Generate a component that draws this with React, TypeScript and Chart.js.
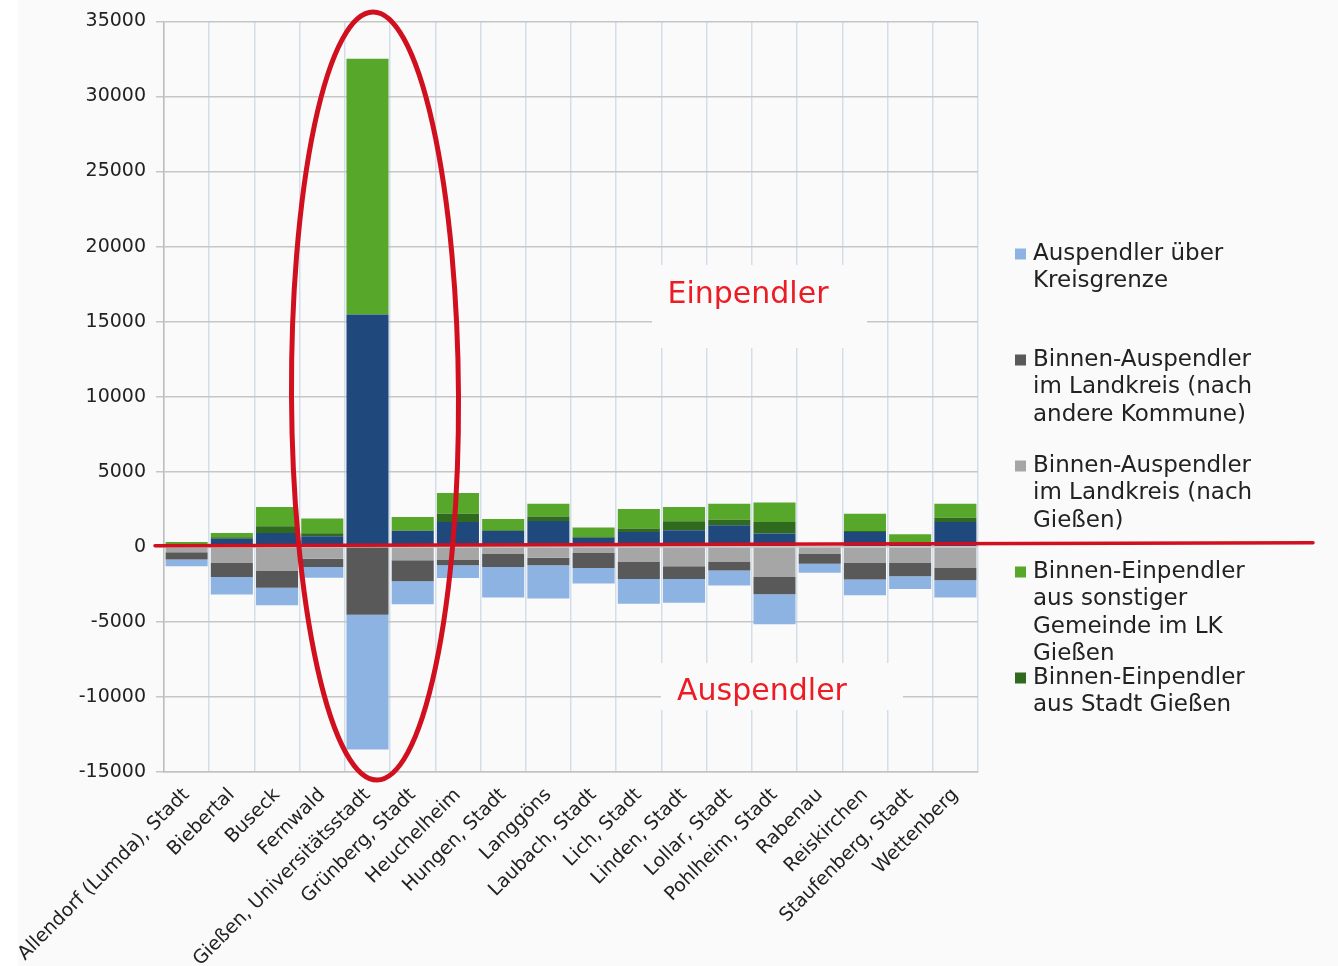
import { useEffect, useRef } from "react";
import { Chart, registerables } from "chart.js";

Chart.register(...registerables);

// Gemeinden im Landkreis Gießen
const communes = [
  "Allendorf (Lumda), Stadt",
  "Biebertal",
  "Buseck",
  "Fernwald",
  "Gießen, Universitätsstadt",
  "Grünberg, Stadt",
  "Heuchelheim",
  "Hungen, Stadt",
  "Langgöns",
  "Laubach, Stadt",
  "Lich, Stadt",
  "Linden, Stadt",
  "Lollar, Stadt",
  "Pohlheim, Stadt",
  "Rabenau",
  "Reiskirchen",
  "Staufenberg, Stadt",
  "Wettenberg",
];

// Einpendler (positive stack, bottom to top)
const einpendlerKreisgrenze = [150, 530, 920, 700, 15480, 1050, 1650, 1050, 1720, 610, 990, 1100, 1430, 880, 0, 990, 200, 1650];
const einpendlerStadtGiessen = [30, 110, 450, 200, 0, 30, 560, 50, 300, 50, 230, 600, 380, 780, 0, 60, 0, 290];
const einpendlerSonstige = [140, 280, 1280, 980, 17040, 900, 1370, 750, 850, 620, 1300, 950, 1060, 1300, 0, 1160, 630, 930];

// Auspendler (negative stack, from zero downwards)
const auspendlerNachGiessen = [-370, -1050, -1610, -790, 0, -900, -850, -450, -720, -410, -970, -1300, -970, -2010, -450, -1050, -1050, -1410];
const auspendlerAndereKommune = [-470, -960, -1110, -560, -4520, -1400, -380, -890, -510, -1000, -1180, -840, -600, -1150, -670, -1130, -910, -820];
const auspendlerKreisgrenze = [-460, -1170, -1180, -710, -8980, -1530, -850, -2040, -2220, -1040, -1640, -1580, -1000, -2000, -600, -1050, -850, -1150];

const yMin = -15000;
const yMax = 35000;
const yStep = 5000;

const LIGHT_BLUE = "#8db3e2";
const DARK_GRAY = "#595959";
const LIGHT_GRAY = "#a6a6a6";
const GREEN = "#57a82a";
const DARK_GREEN = "#2f6a1e";
const DARK_BLUE = "#1f487c";

const FONT = "'DejaVu Sans', 'Liberation Sans', sans-serif";
const BG = "#fafafa";
const RED_TEXT = "#ec1c24";
const RED_MARK = "#d0101f";

// Legend entries, wrapped as they appear beside the plot
const legendEntries: { color: string; lines: string[] }[] = [
  { color: LIGHT_BLUE, lines: ["Auspendler über", "Kreisgrenze"] },
  { color: DARK_GRAY, lines: ["Binnen-Auspendler", "im Landkreis (nach", "andere Kommune)"] },
  { color: LIGHT_GRAY, lines: ["Binnen-Auspendler", "im Landkreis (nach", "Gießen)"] },
  { color: GREEN, lines: ["Binnen-Einpendler", "aus sonstiger", "Gemeinde im LK", "Gießen"] },
  { color: DARK_GREEN, lines: ["Binnen-Einpendler", "aus Stadt Gießen"] },
];

const backgroundPlugin = {
  id: "pageBackground",
  beforeDraw(chart: Chart) {
    const { ctx, width, height } = chart;
    ctx.save();
    ctx.fillStyle = "#ffffff";
    ctx.fillRect(0, 0, width, height);
    ctx.fillStyle = BG;
    ctx.fillRect(18, 0, width - 18, height);
    ctx.restore();
  },
};

const overlayPlugin = {
  id: "overlay",
  afterDraw(chart: Chart) {
    const { ctx } = chart;
    ctx.save();

    // Region labels on cleared backgrounds
    ctx.fillStyle = BG;
    ctx.fillRect(652, 265, 215, 83);
    ctx.fillRect(661, 663, 242, 47);
    ctx.fillStyle = RED_TEXT;
    ctx.font = `30px ${FONT}`;
    ctx.textAlign = "center";
    ctx.textBaseline = "middle";
    ctx.fillText("Einpendler", 748, 295);
    ctx.fillText("Auspendler", 762, 692);

    // Zero divider line
    ctx.strokeStyle = RED_MARK;
    ctx.lineWidth = 3.5;
    ctx.lineCap = "round";
    ctx.beginPath();
    ctx.moveTo(155, 545.7);
    ctx.lineTo(1313, 542.7);
    ctx.stroke();

    // Highlight around Gießen
    ctx.lineWidth = 5;
    ctx.beginPath();
    ctx.ellipse(375, 396, 83.5, 384, -0.0052, 0, Math.PI * 2);
    ctx.stroke();

    // Legend
    ctx.textAlign = "left";
    ctx.textBaseline = "middle";
    ctx.font = `23px ${FONT}`;
    legendEntries.forEach((entry, i) => {
      const top = 254 + 106 * i;
      ctx.fillStyle = entry.color;
      ctx.fillRect(1015, top - 5.5, 11, 11);
      ctx.fillStyle = "#222222";
      entry.lines.forEach((line, j) => {
        ctx.fillText(line, 1033, top + j * 27.5);
      });
    });

    ctx.restore();
  },
};

export default function App() {
  const canvasRef = useRef<HTMLCanvasElement>(null);

  useEffect(() => {
    document.body.style.margin = "0";
    const canvas = canvasRef.current;
    if (!canvas) return;

    const chart = new Chart(canvas, {
      type: "bar",
      data: {
        labels: communes,
        datasets: [
          { label: "Einpendler über Kreisgrenze", data: einpendlerKreisgrenze, backgroundColor: DARK_BLUE },
          { label: "Binnen-Einpendler aus Stadt Gießen", data: einpendlerStadtGiessen, backgroundColor: DARK_GREEN },
          { label: "Binnen-Einpendler aus sonstiger Gemeinde im LK Gießen", data: einpendlerSonstige, backgroundColor: GREEN },
          { label: "Binnen-Auspendler im Landkreis (nach Gießen)", data: auspendlerNachGiessen, backgroundColor: LIGHT_GRAY },
          { label: "Binnen-Auspendler im Landkreis (nach andere Kommune)", data: auspendlerAndereKommune, backgroundColor: DARK_GRAY },
          { label: "Auspendler über Kreisgrenze", data: auspendlerKreisgrenze, backgroundColor: LIGHT_BLUE },
        ],
      },
      options: {
        responsive: false,
        animation: false,
        datasets: {
          bar: { barPercentage: 0.93, categoryPercentage: 1 },
        },
        layout: { padding: { top: 21, right: 360, left: 0, bottom: 0 } },
        plugins: {
          legend: { display: false },
          tooltip: { enabled: false },
        },
        scales: {
          x: {
            stacked: true,
            grid: { color: "#d3deeb", lineWidth: 1.5, drawTicks: false, offset: true },
            border: { display: true, color: "#c2c2c2", width: 1.5 },
            ticks: {
              autoSkip: false,
              minRotation: 45,
              maxRotation: 45,
              padding: 12,
              color: "#222222",
              font: { family: FONT, size: 19 },
            },
            afterFit(scale: any) {
              scale.height = 194;
            },
          },
          y: {
            stacked: true,
            min: yMin,
            max: yMax,
            grid: { color: "#c6c6c6", lineWidth: 1.5, tickLength: 8 },
            border: { display: true, color: "#bdbdbd", width: 1.5 },
            ticks: {
              stepSize: yStep,
              padding: 10,
              color: "#222222",
              font: { family: FONT, size: 19 },
              callback: (value: number | string) => String(value),
            },
            afterFit(scale: any) {
              scale.width = 164;
            },
          },
        },
      },
      plugins: [backgroundPlugin, overlayPlugin],
    });

    return () => chart.destroy();
  }, []);

  return <canvas ref={canvasRef} width={1338} height={966} style={{ display: "block" }} />;
}
